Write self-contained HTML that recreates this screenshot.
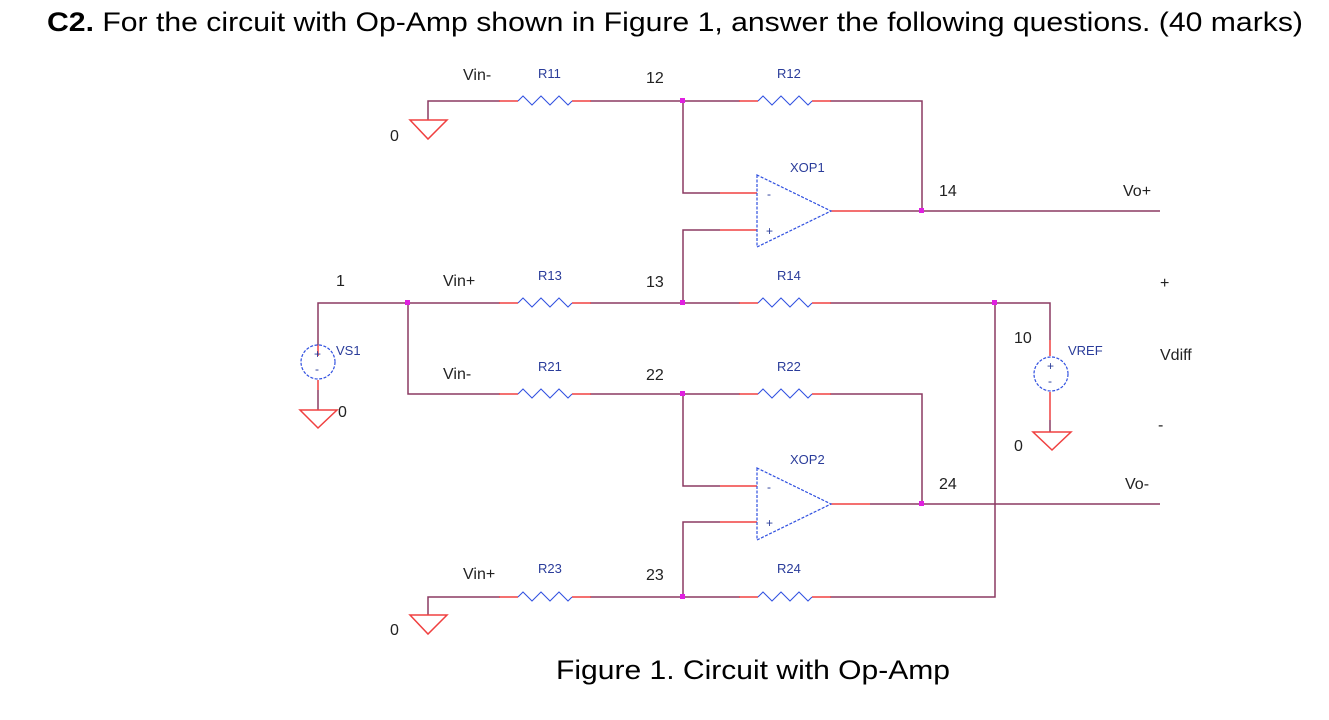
<!DOCTYPE html>
<html><head><style>
body{margin:0;background:#fff;width:1329px;height:720px;overflow:hidden}
svg{position:absolute;left:0;top:0}
.t{font-family:"Liberation Sans",sans-serif;fill:#222}
.b{font-family:"Liberation Sans",sans-serif;fill:#2a3c9a;font-size:13px}
</style></head><body>
<svg width="1329" height="720" viewBox="0 0 1329 720">
<defs>
<g id="res"><polyline points="-46,0 -27,0" stroke="#f04040" stroke-width="1.5" fill="none"/><polyline points="27,0 46,0" stroke="#f04040" stroke-width="1.5" fill="none"/>
<polyline points="-27,0 -22,-5 -13,4 -4,-5 5,4 14,-5 23,4 27,0" stroke="#3050e0" stroke-width="1" fill="none"/></g>
</defs>
<text x="47" y="31" class="t" style="font-size:27px;fill:#000" textLength="1256" lengthAdjust="spacingAndGlyphs"><tspan font-weight="bold">C2.</tspan> For the circuit with Op-Amp shown in Figure 1, answer the following questions. (40 marks)</text>
<g stroke="#8b3a62" stroke-width="1.5" fill="none">
<polyline points="428,120 428,101 500,101"/><polyline points="590,101 740,101"/><polyline points="830,101 922,101 922,211"/>
<polyline points="683,101 683,193 720,193"/><polyline points="720,230 683,230 683,303"/>
<polyline points="870,211 1160,211"/>
<polyline points="318,345 318,303 500,303"/><polyline points="590,303 740,303"/><polyline points="830,303 1050,303 1050,340"/>
<polyline points="995,303 995,597 830,597"/>
<polyline points="408,303 408,394 500,394"/><polyline points="590,394 740,394"/><polyline points="830,394 922,394 922,504"/>
<polyline points="683,394 683,486 720,486"/><polyline points="720,522 683,522 683,597"/>
<polyline points="870,504 1160,504"/>
<polyline points="428,615 428,597 500,597"/><polyline points="590,597 740,597"/>
<polyline points="1050,420 1050,432"/><polyline points="318,390 318,410"/>
</g>
<g stroke="#f04040" stroke-width="1.5" fill="none">
<line x1="720" y1="193" x2="757" y2="193"/><line x1="720" y1="230" x2="757" y2="230"/><line x1="831" y1="211" x2="870" y2="211"/>
<line x1="720" y1="486" x2="757" y2="486"/><line x1="720" y1="522" x2="757" y2="522"/><line x1="831" y1="504" x2="870" y2="504"/>
<line x1="318" y1="345" x2="318" y2="356"/><line x1="318" y1="380" x2="318" y2="390"/>
<line x1="1050" y1="340" x2="1050" y2="356"/><line x1="1050" y1="392" x2="1050" y2="420"/>
<polygon points="410,120 447,120 428,139"/><polygon points="410,615 447,615 428,634"/>
<polygon points="300,410 337,410 318,428"/><polygon points="1033,432 1071,432 1052,450"/>
</g>
<use href="#res" x="545" y="101"/><use href="#res" x="785" y="101"/>
<use href="#res" x="545" y="303"/><use href="#res" x="785" y="303"/>
<use href="#res" x="545" y="394"/><use href="#res" x="785" y="394"/>
<use href="#res" x="545" y="597"/><use href="#res" x="785" y="597"/>
<g stroke="#3050e0" stroke-width="1.2" fill="none" stroke-dasharray="3,1.5">
<polygon points="757,175 757,247 831,211"/><polygon points="757,468 757,540 831,504"/>
<circle cx="318" cy="362" r="17"/><circle cx="1051" cy="374" r="17"/>
</g>
<g class="b" style="font-size:12px">
<text x="767" y="198">-</text><text x="766" y="235">+</text><text x="767" y="491">-</text><text x="766" y="527">+</text>
<text x="314" y="358">+</text><text x="315" y="373">-</text><text x="1047" y="370">+</text><text x="1048" y="385">-</text>
</g>
<g fill="#e020e0">
<rect x="680" y="98" width="5" height="5"/><rect x="919" y="208" width="5" height="5"/>
<rect x="405" y="300" width="5" height="5"/><rect x="680" y="300" width="5" height="5"/><rect x="992" y="300" width="5" height="5"/>
<rect x="680" y="391" width="5" height="5"/><rect x="919" y="501" width="5" height="5"/><rect x="680" y="594" width="5" height="5"/>
</g>
<g class="b">
<text x="538" y="78">R11</text><text x="777" y="78">R12</text><text x="790" y="172">XOP1</text>
<text x="538" y="280">R13</text><text x="777" y="280">R14</text>
<text x="538" y="371">R21</text><text x="777" y="371">R22</text><text x="790" y="464">XOP2</text>
<text x="538" y="573">R23</text><text x="777" y="573">R24</text>
<text x="336" y="355">VS1</text><text x="1068" y="355">VREF</text>
</g>
<g class="t" style="font-size:16px">
<text x="463" y="80">Vin-</text><text x="646" y="83">12</text><text x="390" y="141">0</text>
<text x="939" y="196">14</text><text x="1123" y="196">Vo+</text>
<text x="336" y="286">1</text><text x="443" y="286">Vin+</text><text x="646" y="287">13</text><text x="1160" y="288">+</text>
<text x="1014" y="343">10</text><text x="1160" y="360">Vdiff</text>
<text x="443" y="379">Vin-</text><text x="646" y="380">22</text><text x="338" y="417">0</text>
<text x="1158" y="430">-</text><text x="1014" y="451">0</text>
<text x="939" y="489">24</text><text x="1125" y="489">Vo-</text>
<text x="463" y="579">Vin+</text><text x="646" y="580">23</text><text x="390" y="635">0</text>
</g>
<text x="556" y="679" class="t" style="font-size:27px;fill:#000" textLength="394" lengthAdjust="spacingAndGlyphs">Figure 1. Circuit with Op-Amp</text>
</svg>
</body></html>
